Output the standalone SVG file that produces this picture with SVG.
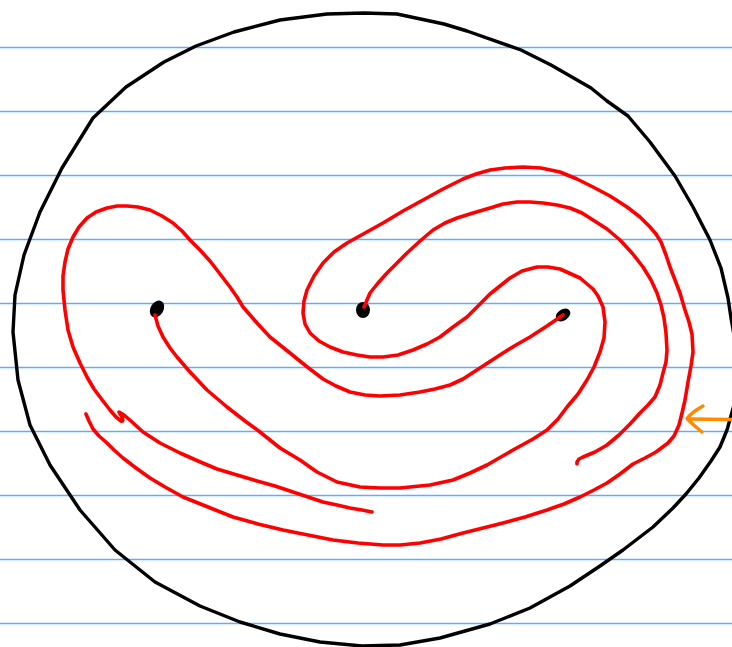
<svg xmlns="http://www.w3.org/2000/svg" width="732" height="647" viewBox="0 0 732 647">
<style>
.rule{stroke:#5eaeff;stroke-width:1.5}
.ink{fill:none;stroke-linecap:round;stroke-linejoin:round}
.red{stroke:#ff0000;stroke-width:3.6}
.blk{stroke:#000;stroke-width:3.4}
.org{stroke:#ff8a00;stroke-width:3.4}
</style>
<rect width="732" height="647" fill="#fff"/>
<g id="rules">
<line class="rule" x1="0" y1="47.5" x2="732" y2="47.5"/>
<line class="rule" x1="0" y1="111.5" x2="732" y2="111.5"/>
<line class="rule" x1="0" y1="175.5" x2="732" y2="175.5"/>
<line class="rule" x1="0" y1="239.5" x2="732" y2="239.5"/>
<line class="rule" x1="0" y1="303.5" x2="732" y2="303.5"/>
<line class="rule" x1="0" y1="367.5" x2="732" y2="367.5"/>
<line class="rule" x1="0" y1="431.5" x2="732" y2="431.5"/>
<line class="rule" x1="0" y1="495.5" x2="732" y2="495.5"/>
<line class="rule" x1="0" y1="559.5" x2="732" y2="559.5"/>
<line class="rule" x1="0" y1="623.5" x2="732" y2="623.5"/>
</g>
<g id="boundary">
<path class="ink blk" d="M364,13 L397,14 L444,24 L467,31 L521,50 L551,65 L591,88 L607,101 L628,116 L650,142 L675,176 L693,207 L710,240 L721,268 L728,298 L731,318 L734,335 L742,370 L734,405 L727,430 L720,447 L711,461 L699,478 L686,494 L673,508 L653,527 L623,550 L600,566 L570,586 L530,608 L490,624 L440,638 L400,645 L362,646 L320,642 L280,634 L240,622 L200,606 L155,582 L115,550 L80,510 L50,465 L30,425 L18,380 L13,332 L15,295 L24,255 L40,212 L62,168 L93,118 L126,87 L164,62 L196,46 L234,32 L280,20 L327,14 Z"/>
</g>
<g id="dots">
<ellipse cx="157" cy="309" rx="6.5" ry="9" transform="rotate(30 157 309)" fill="#000"/>
<ellipse cx="363" cy="310" rx="7" ry="8" fill="#000"/>
<ellipse cx="563" cy="315" rx="8" ry="5.5" transform="rotate(-35 563 315)" fill="#000"/>
</g>
<g id="curves">
<path class="ink red" d="M155,315 L158,326 L163,337 L170,348 L177,357 L190,372 L207,390 L227,407 L245,421 L260,432 L280,448 L300,460 L317,472 L337,482 L360,487 L380,488 L400,488 L430,485 L453,480 L470,473 L487,465 L513,450 L533,439 L547,430 L558,419 L567,407 L578,394 L587,380 L594,367 L600,352 L604,338 L605,322 L603,307 L598,296 L593,289 L580,278 L560,269 L548,267 L537,267 L522,271 L510,278 L500,286 L490,294 L478,306 L467,317 L453,327 L440,337 L427,344 L413,350 L398,355 L383,357 L370,357 L357,355 L343,352 L330,347 L319,341 L310,333 L305,324 L303,313 L304,301 L307,290 L314,276 L323,263 L334,252 L347,243 L365,233 L383,223 L403,211 L423,200 L443,189 L463,179 L476,174 L490,170 L505,168 L523,167 L541,168 L560,172 L577,179 L593,187 L610,196 L627,207 L640,217 L650,227 L656,234 L661,242 L666,255 L670,267 L675,280 L680,293 L685,310 L689,322 L692,334 L693,352 L691,366 L688,382 L685,400 L682,413 L679,425 L674,436 L668,443 L656,452 L645,458 L633,464 L620,474 L607,483 L594,490 L580,497 L564,504 L547,510 L525,517 L503,523 L483,528 L463,533 L441,539 L420,543 L400,545 L383,545 L358,543 L333,540 L308,535 L283,530 L258,524 L233,517 L208,507 L183,497 L165,487 L150,478 L136,468 L123,458 L114,450 L107,443 L99,436 L93,429 L89,421 L86,414"/>
<path class="ink red" d="M364,307 L370,293 L378,283 L387,273 L397,263 L407,253 L420,241 L433,230 L445,223 L457,218 L473,213 L490,208 L503,204 L517,202 L530,202 L543,203 L557,205 L570,208 L582,213 L593,220 L607,229 L620,240 L632,253 L643,267 L651,280 L657,293 L661,305 L664,318 L666,333 L667,350 L666,362 L663,373 L660,385 L655,397 L648,405 L640,413 L630,424 L619,435 L607,445 L595,452 L583,457 L579,459 L577,462 L577,464"/>
<path class="ink red" d="M563,315 L547,326 L530,337 L516,345 L503,353 L483,366 L463,379 L450,385 L435,389 L420,392 L400,395 L380,396 L365,395 L350,392 L336,386 L323,379 L306,366 L290,353 L280,345 L270,337 L257,323 L243,307 L237,297 L230,287 L220,274 L210,261 L200,250 L190,240 L182,231 L173,223 L162,216 L150,210 L138,207 L127,206 L117,206 L107,208 L96,212 L87,218 L79,227 L73,237 L68,249 L65,262 L63,276 L63,290 L65,310 L68,330 L73,347 L80,363 L87,377 L94,389 L103,401 L110,410 L116,417 L121,421 Q124,422 122,417 L119,412 L124,415 L131,421 L143,432 L160,443 L180,453 L198,461 L217,469 L237,475 L257,481 L275,486 L293,492 L308,497 L323,502 L337,505 L350,508 L362,510 L372,512"/>
</g>
<g id="arrow">
<path class="ink org" d="M732,419.5 L688,419"/>
<path class="ink org" d="M703,406 Q692,412 687,418.5 Q693,425 702,432"/>
</g>
</svg>
